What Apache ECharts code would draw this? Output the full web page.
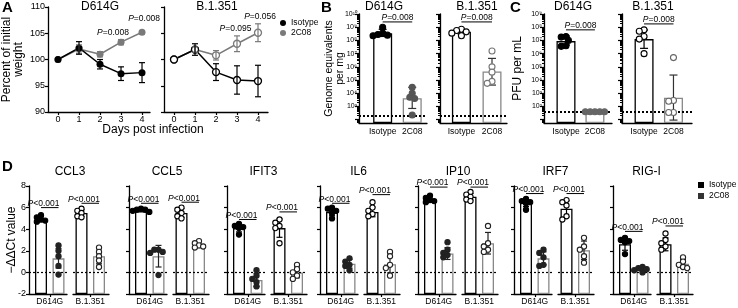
<!DOCTYPE html>
<html>
<head>
<meta charset="utf-8">
<script src="https://cdn.jsdelivr.net/npm/echarts@6/dist/echarts.min.js"></script>
<style>
  html, body { margin: 0; padding: 0; background: #fff; }
  #chart { width: 738px; height: 308px; }
</style>
</head>
<body>
<div id="chart"></div>
<script>
// ---- A: body weight (percent of initial) ----
const days = [0, 1, 2, 3, 4];
const wt614Iso = [100, 102.2, 99.1, 97.3, 97.5];
const wt614IsoSd = [0, 1.2, 0.9, 1.3, 1.9];
const wt614C08 = [100, 102.0, 101.0, 103.3, 105.2];
const wt614C08Sd = [0, 0.8, 0.5, 0.5, 0.3];
const wt351Iso = [100, 101.9, 97.6, 96.1, 95.9];
const wt351IsoSd = [0, 1.1, 1.6, 2.7, 3.0];
const wt351C08 = [100, 101.9, 100.8, 103.0, 105.1];
const wt351C08Sd = [0, 0.5, 0.9, 1.5, 1.7];
// [text, day, percent]
const weightP614 = [['P=0.008', 2.62, 105.2], ['P=0.008', 4.1, 107.7]];
const weightP351 = [['P=0.095', 2.93, 105.8], ['P=0.056', 4.1, 108.1]];

// ---- B: genome equivalents per mg (log10) ----
const groupCats = ['Isotype', '2C08'];
const ge614Mean = [8.55, 3.62];
const ge614Lo = [8.3, 2.85];
const ge614Hi = [8.84, 4.45];
const ge614IsoPts = [9.0, 8.55, 8.45, 8.4, 8.35];
const ge614C08Pts = [4.45, 4.0, 3.7, 3.6, 2.35];
const ge351Mean = [8.66, 5.65];
const ge351Lo = [8.5, 4.62];
const ge351Hi = [8.82, 6.64];
const ge351IsoPts = [8.85, 8.75, 8.65, 8.55, 8.35];
const ge351C08Pts = [7.2, 6.0, 5.6, 4.9, 4.75];
const geLod = 2.3;
const geSig = [9.4, 9.4];

// ---- C: PFU per mL (log10) ----
const pfu614Mean = [6.95, 1.65];
const pfu614Lo = [6.65, null];
const pfu614Hi = [7.33, null];
const pfu614IsoPts = [7.3, 7.25, 7.0, 6.6, 6.55];
const pfu614C08Pts = [1.6, 1.6, 1.6, 1.6, 1.6];
const pfu351Mean = [7.1, 2.66];
const pfu351Lo = [6.4, 0.97];
const pfu351Hi = [7.79, 4.38];
const pfu351IsoPts = [7.8, 7.7, 7.3, 7.1, 6.0];
const pfu351C08Pts = [5.7, 2.45, 2.4, 1.55, 1.55];
const pfuLod = 1.6;
const pfuSig = [7.8, 8.25];

// ---- D: -ddCt per gene; order: D614G iso, D614G 2C08, B.1.351 iso, B.1.351 2C08 ----
const genes = ['CCL3', 'CCL5', 'IFIT3', 'IL6', 'IP10', 'IRF7', 'RIG-I'];
const variants = ['D614G', 'B.1.351'];
const ddctMean = [
  [4.95, 1.3, 5.5, 1.5],
  [5.75, 1.5, 5.5, 2.55],
  [4.1, -0.7, 4.1, 0.0],
  [5.6, 0.8, 5.6, 0.75],
  [6.75, 1.75, 7.0, 2.7],
  [6.45, 1.3, 5.9, 2.05],
  [2.6, 0.3, 2.6, 0.8]
];
const ddctSd = [
  [0.25, 0.9, 0.3, 0.7],
  [0.15, 1.0, 0.4, 0.25],
  [0.35, 0.6, 0.85, 0.5],
  [0.35, 0.4, 0.45, 0.8],
  [0.25, 0.55, 0.3, 1.0],
  [0.35, 0.6, 0.75, 0.85],
  [0.55, 0.2, 0.6, 0.4]
];
const ddctPts = [
  [[5.3, 5.1, 4.9, 4.8, 4.7], [2.5, 2.0, 1.5, 0.6, -0.2], [5.9, 5.7, 5.5, 5.2, 5.1], [2.3, 1.9, 1.5, 1.1, 0.5]],
  [[5.9, 5.8, 5.8, 5.7, 5.6], [2.1, 2.1, 1.9, 1.8, -0.25], [6.0, 5.8, 5.5, 5.2, 5.0], [2.9, 2.7, 2.5, 2.4, 2.3]],
  [[4.5, 4.3, 4.2, 4.1, 3.5], [0.2, -0.3, -0.6, -0.9, -1.3], [4.9, 4.6, 4.3, 4.1, 2.7], [0.7, 0.3, 0.0, -0.3, -0.6]],
  [[6.0, 5.9, 5.7, 5.5, 5.0], [1.3, 1.0, 0.7, 0.6, 0.2], [6.5, 6.0, 5.7, 5.4, 5.2], [1.9, 1.5, 0.7, 0.4, -0.3]],
  [[7.1, 6.9, 6.7, 6.6, 6.5], [2.8, 2.1, 1.8, 1.6, 1.4], [7.45, 7.2, 7.0, 6.75, 6.6], [4.3, 2.7, 2.4, 2.1, 1.9]],
  [[6.8, 6.6, 6.5, 6.4, 5.8], [2.1, 1.8, 1.4, 0.7, 0.6], [6.7, 6.5, 6.2, 5.2, 4.9], [3.2, 2.4, 2.1, 1.5, 0.9]],
  [[3.2, 3.0, 2.9, 2.8, 1.7], [0.5, 0.4, 0.3, 0.2, 0.0], [3.6, 3.0, 2.7, 2.4, 2.1], [1.4, 1.0, 0.7, 0.5, 0.4]]
];
const ddctSig = [[6.0, 6.4], [6.4, 6.5], [4.9, 5.6], [6.4, 7.2], [7.9, 7.9], [7.3, 7.3], [3.8, 4.3]];

// ---- styling / layout ----
const FONT = '"Liberation Sans", Arial, sans-serif';
const INK = '#000';
const GRAY = '#7a7a7a';
const SUP = '⁰¹²³⁴⁵⁶⁷⁸⁹';
const sup = n => String(n).split('').map(c => SUP[+c]).join('');
const axLine = { show: true, onZero: false, lineStyle: { color: INK, width: 1.3 } };
const tickStyle = { color: INK, width: 1.2 };
const ISO_BAR = { color: '#fff', borderColor: INK, borderWidth: 1.3 };
const C08_BAR = { color: '#fff', borderColor: '#888', borderWidth: 1.3 };
const D_Y0 = [29, 129, 227, 320, 418, 514, 613];
const D_TITLE_X = [70, 167, 263.5, 358.5, 458, 555.5, 646.5];

const label = extra => Object.assign({ color: INK, fontFamily: FONT, fontSize: 9, margin: 3 }, extra);
const pText = (t, fs) => ({
  text: '{i|P}' + t.slice(1),
  rich: { i: { fontStyle: 'italic', fontFamily: FONT, fontSize: fs, fill: INK } },
  fontFamily: FONT, fontSize: fs, fill: INK
});

const grids = [], xAxes = [], yAxes = [], series = [];

function addGrid(rect, xa, ya) {
  const gi = grids.length;
  grids.push(Object.assign({ containLabel: false, outerBoundsMode: 'none' }, rect));
  xAxes.push(Object.assign({ gridIndex: gi }, xa));
  yAxes.push(Object.assign({ gridIndex: gi }, ya));
  return { gi, xi: xAxes.length - 1, yi: yAxes.length - 1 };
}

// simple beeswarm: spread points that would overlap too much
function swarm(pts, r) {
  const offs = [];
  pts.forEach((p, i) => {
    const cands = [0];
    for (let k = 1; k <= 8; k++) cands.push(-k * r * 0.8, k * r * 0.8);
    for (const o of cands) {
      let ok = true;
      for (let j = 0; j < i; j++) {
        const dx = o - offs[j], dy = p[1] - pts[j][1];
        if (dx * dx + dy * dy < 2.3 * r * r) { ok = false; break; }
      }
      if (ok) { offs.push(o); break; }
    }
  });
  return offs;
}

function dotSeries(ax, x, vals, st) {
  return {
    type: 'custom', xAxisIndex: ax.xi, yAxisIndex: ax.yi, z: 6, silent: true,
    data: vals.map((v, i) => [x, v, i]),
    renderItem(params, api) {
      const pts = vals.map(v => api.coord([x, v]));
      const offs = swarm(pts, st.r);
      const i = api.value(2);
      return {
        type: 'circle',
        shape: { cx: pts[i][0] + offs[i], cy: pts[i][1], r: st.r },
        style: { fill: st.fill, stroke: st.stroke, lineWidth: 1.1 }
      };
    }
  };
}

function errSeries(ax, items, cap, color) {
  return {
    type: 'custom', xAxisIndex: ax.xi, yAxisIndex: ax.yi, z: 5, silent: true,
    data: items,
    renderItem(params, api) {
      const x = api.value(0);
      const lo = api.coord([x, api.value(1)]);
      const hi = api.coord([x, api.value(2)]);
      const style = { stroke: color, lineWidth: 1.2 };
      return {
        type: 'group', children: [
          { type: 'line', shape: { x1: lo[0], y1: lo[1], x2: hi[0], y2: hi[1] }, style },
          { type: 'line', shape: { x1: lo[0] - cap, y1: lo[1], x2: lo[0] + cap, y2: lo[1] }, style },
          { type: 'line', shape: { x1: hi[0] - cap, y1: hi[1], x2: hi[0] + cap, y2: hi[1] }, style }
        ]
      };
    }
  };
}

function sigSeries(ax, v, txt, align) {
  return {
    type: 'custom', xAxisIndex: ax.xi, yAxisIndex: ax.yi, z: 6, silent: true,
    data: [[1, v]],
    renderItem(params, api) {
      const a = api.coord([1, v]), b = api.coord([2, v]);
      const tx = align === 'center' ? (a[0] + b[0]) / 2 : b[0] + 1;
      return {
        type: 'group', children: [
          { type: 'line', shape: { x1: a[0], y1: a[1], x2: b[0], y2: b[1] }, style: { stroke: INK, lineWidth: 1 } },
          { type: 'text', x: tx, y: a[1] + 0.5, style: Object.assign(pText(txt, 8.5), { align, verticalAlign: 'bottom' }) }
        ]
      };
    }
  };
}

function barSeries(ax, means, width, refValue, refWidth) {
  return {
    type: 'bar', xAxisIndex: ax.xi, yAxisIndex: ax.yi, barWidth: width, silent: true, z: 2,
    data: means.map((m, i) => ({ value: [i + 1, m], itemStyle: i === 0 ? ISO_BAR : C08_BAR })),
    markLine: {
      silent: true, symbol: ['none', 'none'], label: { show: false },
      lineStyle: { color: INK, type: [2, 2], width: refWidth },
      data: [{ yAxis: refValue }]
    }
  };
}

// ---- panel A ----
const aX = {
  type: 'value', min: -0.476, axisLine: axLine, splitLine: { show: false },
  axisTick: { show: true, customValues: days, length: 3, lineStyle: tickStyle },
  axisLabel: label({ customValues: days })
};
const aY = {
  type: 'value', min: 90, max: 110, interval: 5, axisLine: axLine, splitLine: { show: false },
  axisTick: { show: true, length: 3, lineStyle: tickStyle }
};
const a1 = addGrid({ left: 48, top: 7, width: 102, height: 105 },
  Object.assign({}, aX, { max: 4.38 }),
  Object.assign({}, aY, {
    axisLabel: label({}),
    name: 'Percent of initial\nweight', nameLocation: 'middle', nameGap: 23, nameMoveOverlap: false,
    nameTextStyle: { fontFamily: FONT, fontSize: 12, lineHeight: 12, color: INK }
  }));
const a2 = addGrid({ left: 164, top: 7, width: 104, height: 105 },
  Object.assign({}, aX, { max: 4.476 }),
  Object.assign({}, aY, { axisLabel: { show: false } }));

function weightPanel(ax, iso, isoSd, c08, c08Sd, open, notes) {
  const xy = arr => days.map((d, i) => [d, arr[i]]);
  const eb = (arr, sd) => days.map((d, i) => [d, arr[i] - sd[i], arr[i] + sd[i]]).filter((e, i) => sd[i] > 0);
  const line = (name, arr, color) => ({
    type: 'line', name, xAxisIndex: ax.xi, yAxisIndex: ax.yi, data: xy(arr), z: 4, silent: true,
    symbol: 'circle', symbolSize: 7, lineStyle: { color, width: 1.5 },
    itemStyle: open ? { color: '#fff', borderColor: color, borderWidth: 1.3 } : { color, borderColor: color, borderWidth: 0 }
  });
  series.push(errSeries(ax, eb(c08, c08Sd), 3, GRAY));
  series.push(errSeries(ax, eb(iso, isoSd), 3, INK));
  series.push(line('2C08', c08, GRAY));
  series.push(line('Isotype', iso, INK));
  series.push({
    type: 'custom', xAxisIndex: ax.xi, yAxisIndex: ax.yi, z: 6, silent: true,
    data: notes.map(n => [n[1], n[2]]),
    renderItem(params, api) {
      const p = api.coord([api.value(0), api.value(1)]);
      const st = pText(notes[params.dataIndex][0], 8.5);
      return { type: 'text', x: p[0], y: p[1], style: Object.assign(st, { align: 'center', verticalAlign: 'middle' }) };
    }
  });
}
weightPanel(a1, wt614Iso, wt614IsoSd, wt614C08, wt614C08Sd, false, weightP614);
weightPanel(a2, wt351Iso, wt351IsoSd, wt351C08, wt351C08Sd, true, weightP351);

// ---- panels B and C (log scale) ----
function logGrid(left, width, xmin, xmax, ymin, ymax, labelFrom, nameOpt) {
  const major = [], minor = [];
  for (let d = Math.ceil(ymin); d <= ymax; d++) major.push(d);
  for (let d = Math.floor(ymin); d < ymax; d++) {
    for (let k = 2; k < 10; k++) {
      const t = d + Math.log10(k);
      if (t > ymin) minor.push(t);
    }
  }
  const ax = addGrid({ left, top: 14, width, height: 109 },
    {
      type: 'value', min: xmin, max: xmax, axisLine: axLine, axisTick: { show: false }, splitLine: { show: false },
      axisLabel: label({ customValues: [1, 2], fontSize: 8.5, margin: 4, formatter: v => groupCats[Math.round(v) - 1] })
    },
    Object.assign({
      type: 'value', min: ymin, max: ymax, startValue: ymin, axisLine: axLine, splitLine: { show: false },
      axisTick: { show: true, customValues: major, length: 4, lineStyle: tickStyle },
      axisLabel: nameOpt
        ? label({ customValues: major.filter(d => d >= labelFrom), fontSize: 7, margin: 2, formatter: v => '10' + sup(v) })
        : { show: false }
    }, nameOpt || {}));
  yAxes.push({
    gridIndex: ax.gi, type: 'value', min: ymin, max: ymax, position: 'left',
    axisLine: { show: false, onZero: false }, axisLabel: { show: false }, splitLine: { show: false },
    axisTick: { show: true, customValues: minor, length: 2, lineStyle: tickStyle }
  });
  return ax;
}

function logPanel(ax, mean, lo, hi, isoPts, c08Pts, lod, sig, c08Fill, c08Stroke, open) {
  series.push(barSeries(ax, mean, 19, lod, 2));
  series.push(errSeries(ax, [[1, lo[0], hi[0]]], 4, INK));
  if (lo[1] !== null) series.push(errSeries(ax, [[2, lo[1], hi[1]]], 4, '#333'));
  series.push(dotSeries(ax, 1, isoPts, { r: 3, fill: open ? '#fff' : INK, stroke: INK }));
  series.push(dotSeries(ax, 2, c08Pts, { r: 3, fill: open ? '#fff' : c08Fill, stroke: c08Stroke }));
  series.push(sigSeries(ax, sig, 'P=0.008', 'center'));
}

const b1 = logGrid(359, 68, 0.2, 2.5, 1.75, 10, 3, {
  name: 'Genome equivalents\nper mg', nameLocation: 'middle', nameGap: 13, nameMoveOverlap: false,
  nameTextStyle: { fontFamily: FONT, fontSize: 10.5, lineHeight: 11, color: INK }
});
const b2 = logGrid(440, 67, 0.3, 2.49, 1.75, 10, 3, null);
const c1 = logGrid(544, 68, 0.24, 2.59, 0.75, 9, 2, {
  name: 'PFU per mL', nameLocation: 'middle', nameGap: 20, nameMoveOverlap: false,
  nameTextStyle: { fontFamily: FONT, fontSize: 12, color: INK }
});
const c2 = logGrid(622, 70, 0.25, 2.63, 0.75, 9, 2, null);

logPanel(b1, ge614Mean, ge614Lo, ge614Hi, ge614IsoPts, ge614C08Pts, geLod, geSig[0], '#555', '#555', false);
logPanel(b2, ge351Mean, ge351Lo, ge351Hi, ge351IsoPts, ge351C08Pts, geLod, geSig[1], '#fff', '#777', true);
logPanel(c1, pfu614Mean, pfu614Lo, pfu614Hi, pfu614IsoPts, pfu614C08Pts, pfuLod, pfuSig[0], '#666', '#666', false);
logPanel(c2, pfu351Mean, pfu351Lo, pfu351Hi, pfu351IsoPts, pfu351C08Pts, pfuLod, pfuSig[1], '#fff', '#666', true);

// ---- panel D ----
genes.forEach((gene, g) => {
  for (let v = 0; v < 2; v++) {
    const left = D_Y0[g] + (v === 0 ? 0 : 44);
    const width = v === 0 ? 38 : 36;
    const xmin = v === 0 ? 0.314 : 0.514;
    const showY = v === 0;
    const ax = addGrid({ left, top: 186, width, height: 108 },
      {
        type: 'value', min: xmin, max: xmin + width / 17.5, axisLine: axLine, splitLine: { show: false },
        axisTick: { show: true, customValues: [1.5], length: 3, lineStyle: tickStyle },
        axisLabel: label({ customValues: [1.5], fontSize: 8.5, margin: 3, formatter: () => variants[v] })
      },
      Object.assign({
        type: 'value', min: -2, max: 8, interval: 2, startValue: -2, splitLine: { show: false },
        axisLine: Object.assign({}, axLine, { show: showY }),
        axisTick: { show: showY, length: 3, lineStyle: tickStyle },
        axisLabel: showY && g === 0 ? label({}) : { show: false }
      }, showY && g === 0 ? {
        name: '−ΔΔCt value', nameLocation: 'middle', nameGap: 11, nameMoveOverlap: false,
        nameTextStyle: { fontFamily: FONT, fontSize: 12, color: INK }
      } : {}));
    const m = ddctMean[g].slice(v * 2, v * 2 + 2);
    const sd = ddctSd[g].slice(v * 2, v * 2 + 2);
    series.push(barSeries(ax, m, 12, 0, 1.2));
    series.push(errSeries(ax, [[1, m[0] - sd[0], m[0] + sd[0]]], 3, INK));
    series.push(errSeries(ax, [[2, m[1] - sd[1], m[1] + sd[1]]], 3, '#222'));
    series.push(dotSeries(ax, 1, ddctPts[g][v * 2], { r: 2.6, fill: v === 0 ? INK : '#fff', stroke: INK }));
    series.push(dotSeries(ax, 2, ddctPts[g][v * 2 + 1], { r: 2.6, fill: v === 0 ? '#222' : '#fff', stroke: '#222' }));
    series.push(sigSeries(ax, ddctSig[g][v], 'P<0.001', 'right'));
  }
});

// ---- titles ----
const T = (text, x, y) => ({
  text, left: x, top: y, padding: 0, textAlign: 'center',
  textStyle: { fontFamily: FONT, fontSize: 12, fontWeight: 'normal', color: INK }
});
const L = (text, x, y) => ({
  text, left: x, top: y, padding: 0,
  textStyle: { fontFamily: FONT, fontSize: 15, fontWeight: 'bold', color: INK }
});
const titles = [
  L('A', 2, 0), T('D614G', 100, 1), T('B.1.351', 217, 1), T('Days post infection', 153, 124),
  L('B', 321, 0), T('D614G', 384, 1), T('B.1.351', 477, 1),
  L('C', 510, 0), T('D614G', 573, 1), T('B.1.351', 653, 1),
  L('D', 2, 159)
].concat(genes.map((gname, g) => T(gname, D_TITLE_X[g], 166)));

const chart = echarts.init(document.getElementById('chart'), null, { renderer: 'canvas' });
chart.setOption({
  animation: false,
  backgroundColor: '#fff',
  textStyle: { fontFamily: FONT, color: INK },
  title: titles,
  legend: [
    {
      orient: 'vertical', left: 280, top: 18, padding: 0, itemWidth: 6, itemHeight: 6, itemGap: 0,
      selectedMode: false, textStyle: { fontFamily: FONT, fontSize: 8.5, lineHeight: 10, color: INK },
      data: [
        { name: 'Isotype', icon: 'circle', itemStyle: { color: INK, borderWidth: 0 } },
        { name: '2C08', icon: 'circle', itemStyle: { color: GRAY, borderWidth: 0 } }
      ]
    },
    {
      orient: 'vertical', left: 698, top: 180, padding: 0, itemWidth: 6, itemHeight: 6, itemGap: 1,
      selectedMode: false, textStyle: { fontFamily: FONT, fontSize: 8.5, lineHeight: 10, color: INK },
      data: [
        { name: 'Isotype', icon: 'rect', itemStyle: { color: INK, borderWidth: 0 } },
        { name: '2C08', icon: 'rect', itemStyle: { color: '#333', borderWidth: 0 } }
      ]
    }
  ],
  grid: grids,
  xAxis: xAxes,
  yAxis: yAxes,
  series: series
});
</script>
</body>
</html>
